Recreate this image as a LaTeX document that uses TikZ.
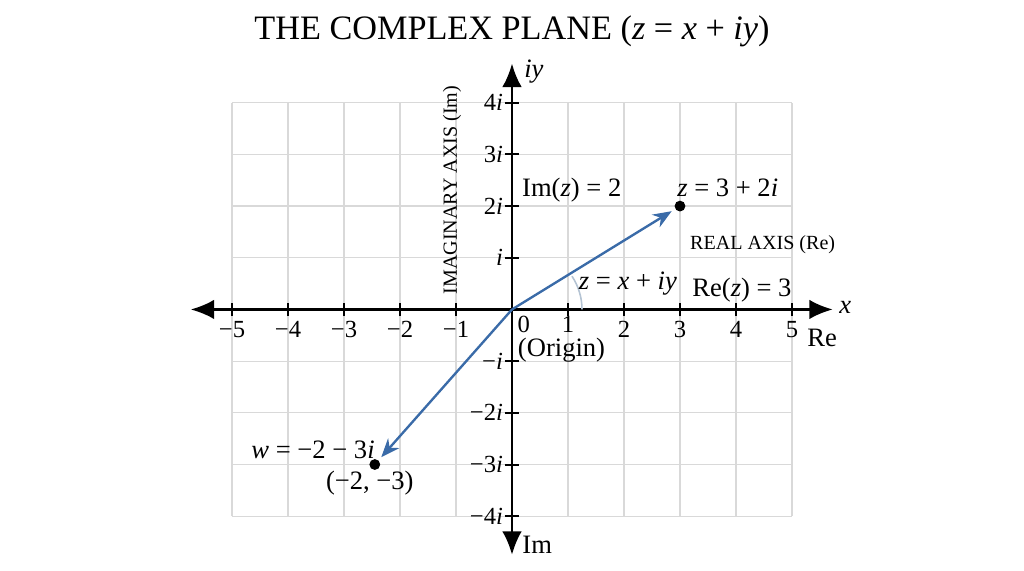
\documentclass[tikz,border=0pt]{standalone}
\usepackage{fontspec}
\setmainfont{Liberation Serif}
\usetikzlibrary{arrows.meta}
\definecolor{vecblue}{HTML}{3A6BA8}
\definecolor{arcgray}{HTML}{B4C3D3}
\tikzset{
  gridline/.style={draw=black!15, line width=0.6pt},
  axis/.style={line width=1.5pt, {Latex[length=12pt,width=10pt]}-{Latex[length=12pt,width=10pt]}},
  tick/.style={line width=1pt},
  vec/.style={vecblue, line width=1.2pt, -{Stealth[length=9.5pt,width=7.5pt]}, shorten >=2pt},
  dot/.style={circle, fill=black, inner sep=0pt, minimum size=5.5pt},
  lbl/.style={font=\fontsize{13.5}{16}\selectfont, inner sep=1pt},
  ticklbl/.style={font=\fontsize{12.5}{15}\selectfont, inner sep=1pt},
  small/.style={font=\fontsize{10.2}{12}\selectfont, inner sep=1pt}
}
\begin{document}
\begin{tikzpicture}[x=1cm,y=0.923cm]
        \useasboundingbox (-9.143,-5.058) rectangle (9.143,5.987);
        % Title
        \node[font=\fontsize{17.4}{20}\selectfont] (title) at (0,5.38) {THE COMPLEX PLANE (\textit{z} = \textit{x} + \textit{iy})};

        % Draw the grid
        \foreach \i in {-5,...,5} {
            \draw[gridline] (\i,-4) -- (\i,4);
        }
        \foreach \j in {-4,...,4} {
            \draw[gridline] (-5,\j) -- (5,\j);
        }

        % Draw the axes
        \coordinate (xl) at (-5.74,0);
        \coordinate (xr) at (5.73,0);
        \coordinate (yt) at (0,4.76);
        \coordinate (yb) at (0,-4.75);
        \coordinate (O) at (0,0);
        \draw[axis] (xl) -- (xr);
        \draw[axis] (yb) -- (yt);

        % Ticks and labels on the real axis
        \foreach \i in {-5,...,-1,1,2,...,5} {
            \draw[tick] (\i,-0.13) -- (\i,0.13);
        }
        \foreach \i in {-5,...,-1} {
            \node[ticklbl] (rl\i) at (\i,-0.39) {−\the\numexpr-\i\relax};
        }
        \foreach \i in {2,...,5} {
            \node[ticklbl] (rl\i) at (\i,-0.39) {\i};
        }
        \node[ticklbl, inner sep=0pt] (rl1) at (1,-0.29) {1};
        \node[ticklbl, inner sep=0pt] (rl0) at (0.21,-0.29) {0};

        % Ticks and labels on the imaginary axis
        \foreach \j in {-4,...,-1,1,2,...,4} {
            \draw[tick] (-0.13,\j) -- (0.13,\j);
        }
        \foreach \j/\t in {4/4\textit{i}, 3/3\textit{i}, 2/2\textit{i}, 1/\textit{i}, -1/−\textit{i}, -2/−2\textit{i}, -3/−3\textit{i}, -4/−4\textit{i}} {
            \node[ticklbl, anchor=east] (il\j) at (-0.12,\j) {\t};
        }

        % Axis names
        \node[lbl] (iy) at (0.39,4.6) {\textit{iy}};
        \node[lbl] (xname) at (5.95,0.04) {\textit{x}};
        \node[lbl] (rename) at (5.54,-0.55) {Re};
        \node[lbl] (imname) at (0.45,-4.55) {Im};
        \node[lbl, anchor=west, inner sep=0pt] (origin) at (0.1,-0.79) {(Origin)};
        \node[small, rotate=90] (imaxis) at (-1.07,2.31) {IMAGINARY AXIS (Im)};
        \node[small, anchor=west] (reaxis) at (3.14,1.25) {REAL AXIS (Re)};

        % Points and vectors
        \node[dot] (z) at (3,2) {};
        \node[dot] (w) at (-2.45,-3) {};
        \draw[vec] (O) -- (z);
        \draw[vec] (O) -- (w);
        \draw[arcgray, line width=0.8pt] (1.25,0) arc[start angle=0, end angle=31, radius=1.25];

        % Labels for the points
        \node[lbl, anchor=west] (imz) at (0.14,2.31) {Im(\textit{z}) = 2};
        \node[lbl, anchor=west] (zlbl) at (2.91,2.35) {\textit{z} = 3 + 2\textit{i}};
        \node[lbl] (zxy) at (2.07,0.51) {\textit{z} = \textit{x} + \textit{iy}};
        \node[lbl, anchor=west] (rez) at (3.18,0.38) {Re(\textit{z}) = 3};
        \node[lbl, anchor=east] (wlbl) at (-2.41,-2.72) {\textit{w} = −2 − 3\textit{i}};
        \node[lbl] (wcoord) at (-2.54,-3.36) {(−2, −3)};
    \end{tikzpicture}
\end{document}
